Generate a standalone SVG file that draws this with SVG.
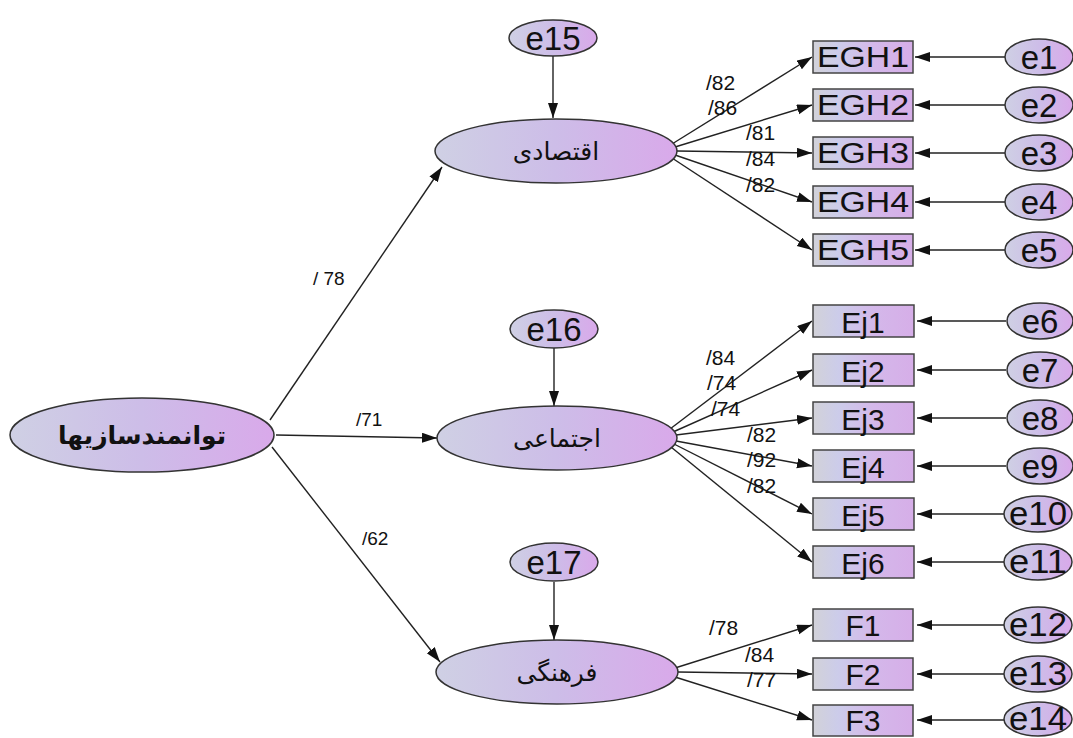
<svg xmlns="http://www.w3.org/2000/svg" width="1073" height="738" viewBox="0 0 1073 738">
<defs>
<linearGradient id="gE" x1="0" y1="0" x2="1" y2="0">
<stop offset="0" stop-color="#cfd0e4"/>
<stop offset="0.5" stop-color="#cdbde8"/>
<stop offset="1" stop-color="#d9a9ea"/>
</linearGradient>
<linearGradient id="gB" x1="0" y1="0" x2="1" y2="0">
<stop offset="0" stop-color="#d2d2d8"/>
<stop offset="0.25" stop-color="#ccccea"/>
<stop offset="0.6" stop-color="#d4b8ea"/>
<stop offset="1" stop-color="#d6aee8"/>
</linearGradient>
<marker id="ar" markerUnits="userSpaceOnUse" markerWidth="16" markerHeight="12" refX="15" refY="5" orient="auto">
<path d="M0,0 L15,5 L0,10 z" fill="#111"/>
</marker>
</defs>
<style>
.bg{fill:#ffffff}
.lat{fill:url(#gE);stroke:#333;stroke-width:1.5}
.err{fill:url(#gE);stroke:#333;stroke-width:1.5}
.box{fill:url(#gB);stroke:#444;stroke-width:1.5}
.ln{stroke:#222;stroke-width:1.4;fill:none;marker-end:url(#ar)}
.bt{font-family:"Liberation Sans",Arial,sans-serif;font-size:30px;fill:#111;text-anchor:middle}
.et{font-family:"Liberation Sans",Arial,sans-serif;font-size:33px;fill:#111;text-anchor:middle}
.ar{font-family:"DejaVu Sans","Noto Sans",sans-serif;font-size:25px;fill:#111;text-anchor:middle}
.pl{font-family:"Liberation Sans",Arial,sans-serif;font-size:21px;fill:#111}
.ml{font-family:"Liberation Sans",Arial,sans-serif;font-size:19px;fill:#111}
</style>
<rect class="bg" x="0" y="0" width="1073" height="738"/>

<g id="connectors">
<line class="ln" x1="270" y1="420" x2="442" y2="167"/>
<line class="ln" x1="276" y1="435" x2="437" y2="438"/>
<line class="ln" x1="272" y1="447" x2="440" y2="662"/>
<line class="ln" x1="553" y1="56" x2="553" y2="118"/>
<line class="ln" x1="554" y1="348" x2="554" y2="406"/>
<line class="ln" x1="554" y1="582" x2="554" y2="640"/>
<line class="ln" x1="672" y1="144" x2="812" y2="57"/>
<line class="ln" x1="675" y1="147" x2="812" y2="105"/>
<line class="ln" x1="677" y1="151" x2="812" y2="153"/>
<line class="ln" x1="675" y1="155" x2="812" y2="202"/>
<line class="ln" x1="672" y1="158" x2="812" y2="250"/>
<line class="ln" x1="670" y1="429" x2="812" y2="321"/>
<line class="ln" x1="673" y1="432" x2="812" y2="370"/>
<line class="ln" x1="676" y1="435" x2="812" y2="418"/>
<line class="ln" x1="676" y1="441" x2="812" y2="466"/>
<line class="ln" x1="674" y1="444" x2="812" y2="514"/>
<line class="ln" x1="671" y1="447" x2="812" y2="562"/>
<line class="ln" x1="675" y1="668" x2="812" y2="625"/>
<line class="ln" x1="678" y1="672" x2="812" y2="674"/>
<line class="ln" x1="675" y1="677" x2="812" y2="720"/>
<line class="ln" x1="1005" y1="57" x2="915" y2="57"/>
<line class="ln" x1="1005" y1="105" x2="915" y2="105"/>
<line class="ln" x1="1005" y1="153" x2="915" y2="153"/>
<line class="ln" x1="1005" y1="202" x2="915" y2="202"/>
<line class="ln" x1="1005" y1="250" x2="915" y2="250"/>
<line class="ln" x1="1006" y1="321" x2="917" y2="321"/>
<line class="ln" x1="1006" y1="370" x2="917" y2="370"/>
<line class="ln" x1="1006" y1="418" x2="917" y2="418"/>
<line class="ln" x1="1006" y1="466" x2="917" y2="466"/>
<line class="ln" x1="1004" y1="514" x2="917" y2="514"/>
<line class="ln" x1="1004" y1="562" x2="917" y2="562"/>
<line class="ln" x1="1004" y1="625" x2="917" y2="625"/>
<line class="ln" x1="1004" y1="674" x2="917" y2="674"/>
<line class="ln" x1="1004" y1="720" x2="917" y2="720"/>
</g>

<g id="path-labels">
<text class="ml" x="313" y="285">/ 78</text>
<text class="ml" x="356" y="426">/71</text>
<text class="ml" x="362" y="545">/62</text>
<text class="pl" x="706" y="90">/82</text>
<text class="pl" x="708" y="115">/86</text>
<text class="pl" x="746" y="140">/81</text>
<text class="pl" x="746" y="166">/84</text>
<text class="pl" x="746" y="192">/82</text>
<text class="pl" x="706" y="365">/84</text>
<text class="pl" x="707" y="390">/74</text>
<text class="pl" x="711" y="416">/74</text>
<text class="pl" x="747" y="442">/82</text>
<text class="pl" x="747" y="467">/92</text>
<text class="pl" x="747" y="493">/82</text>
<text class="pl" x="709" y="635">/78</text>
<text class="pl" x="745" y="662">/84</text>
<text class="pl" x="747" y="687">/77</text>
</g>

<g id="n-main"><ellipse class="lat" cx="142" cy="435" rx="132" ry="37"/><text class="ar" x="142" y="444" font-size="24" font-weight="bold">توانمندسازیها</text></g>
<g id="n-eqt"><ellipse class="lat" cx="556" cy="151" rx="121" ry="32"/><text class="ar" x="556" y="160">اقتصادی</text></g>
<g id="n-ejt"><ellipse class="lat" cx="557" cy="438" rx="120" ry="32"/><text class="ar" x="557" y="447">اجتماعی</text></g>
<g id="n-frh"><ellipse class="lat" cx="557" cy="672" rx="121" ry="32"/><text class="ar" x="557" y="681">فرهنگی</text></g>

<g id="n-e15"><ellipse class="err" cx="553" cy="38" rx="44" ry="18"/><text class="et" x="553" y="50">e15</text></g>
<g id="n-e16"><ellipse class="err" cx="554" cy="329" rx="44" ry="19"/><text class="et" x="554" y="341">e16</text></g>
<g id="n-e17"><ellipse class="err" cx="554" cy="562" rx="44" ry="19"/><text class="et" x="554" y="574">e17</text></g>

<g id="n-EGH1"><rect class="box" x="813" y="41" width="100" height="32"/><text class="bt" x="863" y="67" textLength="92" lengthAdjust="spacingAndGlyphs">EGH1</text></g>
<g id="n-EGH2"><rect class="box" x="813" y="89" width="100" height="32"/><text class="bt" x="863" y="115" textLength="92" lengthAdjust="spacingAndGlyphs">EGH2</text></g>
<g id="n-EGH3"><rect class="box" x="813" y="137" width="100" height="32"/><text class="bt" x="863" y="163" textLength="92" lengthAdjust="spacingAndGlyphs">EGH3</text></g>
<g id="n-EGH4"><rect class="box" x="813" y="186" width="100" height="32"/><text class="bt" x="863" y="212" textLength="92" lengthAdjust="spacingAndGlyphs">EGH4</text></g>
<g id="n-EGH5"><rect class="box" x="813" y="234" width="100" height="32"/><text class="bt" x="863" y="260" textLength="92" lengthAdjust="spacingAndGlyphs">EGH5</text></g>

<g id="n-Ej1"><rect class="box" x="813" y="305" width="101" height="32"/><text class="bt" x="863" y="333">Ej1</text></g>
<g id="n-Ej2"><rect class="box" x="813" y="354" width="101" height="32"/><text class="bt" x="863" y="382">Ej2</text></g>
<g id="n-Ej3"><rect class="box" x="813" y="402" width="101" height="32"/><text class="bt" x="863" y="430">Ej3</text></g>
<g id="n-Ej4"><rect class="box" x="813" y="450" width="101" height="32"/><text class="bt" x="863" y="478">Ej4</text></g>
<g id="n-Ej5"><rect class="box" x="813" y="498" width="101" height="32"/><text class="bt" x="863" y="526">Ej5</text></g>
<g id="n-Ej6"><rect class="box" x="813" y="546" width="101" height="32"/><text class="bt" x="863" y="574">Ej6</text></g>

<g id="n-F1"><rect class="box" x="813" y="609" width="100" height="32"/><text class="bt" x="863" y="636">F1</text></g>
<g id="n-F2"><rect class="box" x="813" y="658" width="100" height="32"/><text class="bt" x="863" y="685">F2</text></g>
<g id="n-F3"><rect class="box" x="813" y="705" width="100" height="31"/><text class="bt" x="863" y="731">F3</text></g>

<g id="n-e1"><ellipse class="err" cx="1039" cy="57" rx="34" ry="18"/><text class="et" x="1039" y="69">e1</text></g>
<g id="n-e2"><ellipse class="err" cx="1039" cy="105" rx="34" ry="18"/><text class="et" x="1039" y="117">e2</text></g>
<g id="n-e3"><ellipse class="err" cx="1039" cy="153" rx="34" ry="18"/><text class="et" x="1039" y="165">e3</text></g>
<g id="n-e4"><ellipse class="err" cx="1039" cy="202" rx="34" ry="18"/><text class="et" x="1039" y="214">e4</text></g>
<g id="n-e5"><ellipse class="err" cx="1039" cy="250" rx="34" ry="18"/><text class="et" x="1039" y="262">e5</text></g>
<g id="n-e6"><ellipse class="err" cx="1040" cy="321" rx="33" ry="18"/><text class="et" x="1040" y="333">e6</text></g>
<g id="n-e7"><ellipse class="err" cx="1040" cy="370" rx="33" ry="18"/><text class="et" x="1040" y="382">e7</text></g>
<g id="n-e8"><ellipse class="err" cx="1040" cy="418" rx="33" ry="18"/><text class="et" x="1040" y="430">e8</text></g>
<g id="n-e9"><ellipse class="err" cx="1040" cy="466" rx="33" ry="18"/><text class="et" x="1040" y="478">e9</text></g>
<g id="n-e10"><ellipse class="err" cx="1038" cy="514" rx="34" ry="18"/><text class="et" x="1038" y="525" font-size="31" textLength="58" lengthAdjust="spacingAndGlyphs">e10</text></g>
<g id="n-e11"><ellipse class="err" cx="1038" cy="562" rx="34" ry="18"/><text class="et" x="1038" y="573" font-size="31" textLength="58" lengthAdjust="spacingAndGlyphs">e11</text></g>
<g id="n-e12"><ellipse class="err" cx="1038" cy="625" rx="34" ry="18"/><text class="et" x="1038" y="636" font-size="31" textLength="58" lengthAdjust="spacingAndGlyphs">e12</text></g>
<g id="n-e13"><ellipse class="err" cx="1038" cy="674" rx="34" ry="18"/><text class="et" x="1038" y="685" font-size="31" textLength="58" lengthAdjust="spacingAndGlyphs">e13</text></g>
<g id="n-e14"><ellipse class="err" cx="1038" cy="719" rx="34" ry="17"/><text class="et" x="1038" y="730" font-size="31" textLength="58" lengthAdjust="spacingAndGlyphs">e14</text></g>
</svg>
